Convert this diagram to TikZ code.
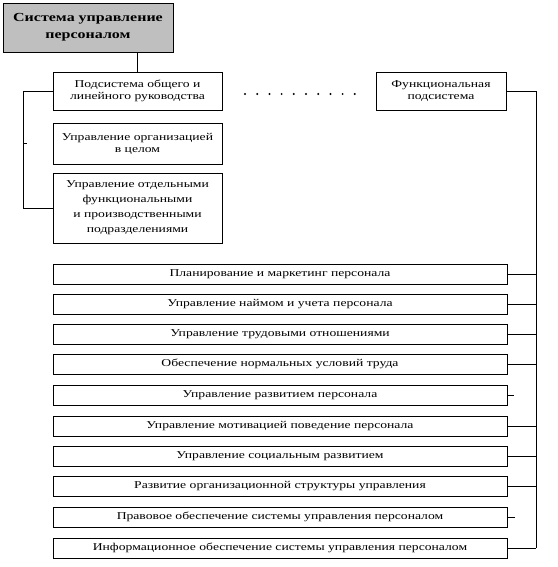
\documentclass[tikz,border=0pt]{standalone}
\usepackage{fontspec}
\setmainfont{Liberation Serif}[FakeStretch=1.3]
\usetikzlibrary{positioning}

\tikzset{
  unit/.style={draw, align=center, inner sep=0pt, font=\fontsize{10.5}{12}\selectfont},
  block/.style={unit, minimum width=169pt, minimum height=38pt},
  duty/.style={unit, minimum width=454pt, minimum height=20pt},
}

\begin{document}
\begin{tikzpicture}[x=1pt, y=-1pt]
\useasboundingbox (0,0) rectangle (557,567);
\node[draw, fill=gray!50, minimum width=170pt, minimum height=49pt, align=center,
  inner sep=0pt, font=\fontsize{12.3}{17}\selectfont\bfseries] (sys) at (88,27.5)
  {Система управление\\персоналом};
\node[block] (gen) at (137.5,91) {Подсистема общего и\\линейного руководства};
\node[block, minimum height=41pt] (org) at (137.5,143.5) {Управление организацией\\в целом};
\node[block, minimum height=70pt] (dep) at (137.5,208)
  {Управление отдельными\\[3pt]функциональными\\[3pt]и производственными\\[3pt]подразделениями};
\node[block, minimum width=130pt] (func) at (441,91) {Функциональная\\подсистема};
\node[duty] (d1) at (280,274) {Планирование и маркетинг персонала};
\node[duty] (d2) at (280,304) {Управление наймом и учета персонала};
\node[duty] (d3) at (280,334) {Управление трудовыми отношениями};
\node[duty] (d4) at (280,364) {Обеспечение нормальных условий труда};
\node[duty] (d5) at (280,395) {Управление развитием персонала};
\node[duty] (d6) at (280,426) {Управление мотивацией поведение персонала};
\node[duty] (d7) at (280,456) {Управление социальным развитием};
\node[duty] (d8) at (280,486) {Развитие организационной структуры управления};
\node[duty] (d9) at (280,517) {Правовое обеспечение системы управления персоналом};
\node[duty] (d10) at (280,548) {Информационное обеспечение системы управления персоналом};
% links of the general subsystem
\draw (gen.north) -- (gen.north |- sys.south);
\draw (gen.west) -- ++(-30,0) coordinate (lft) |- (dep.west);
\path (lft |- org.west) coordinate (stub);
\draw (stub) -- ++(4,0);
\foreach \i in {0,...,9} \fill (245+\i*12.2,94) circle (1.1pt);
% bus of the functional subsystem
\draw (func.east) -- ++(30,0) coordinate (bus) -- (bus |- d10.east);
\draw (d1.east) -- (d1.east -| bus);
\draw (d2.east) -- (d2.east -| bus);
\draw (d3.east) -- (d3.east -| bus);
\draw (d4.east) -- (d4.east -| bus);
\draw (d5.east) -- ++(7,0) coordinate (e5);
\draw (d6.east) -- (d6.east -| bus);
\draw (d7.east) -- (d7.east -| bus);
\draw (d8.east) -- (d8.east -| bus);
\draw (d9.east) -- ++(8,0) coordinate (e9);
\draw (d10.east) -- (d10.east -| bus);
\end{tikzpicture}
\end{document}
